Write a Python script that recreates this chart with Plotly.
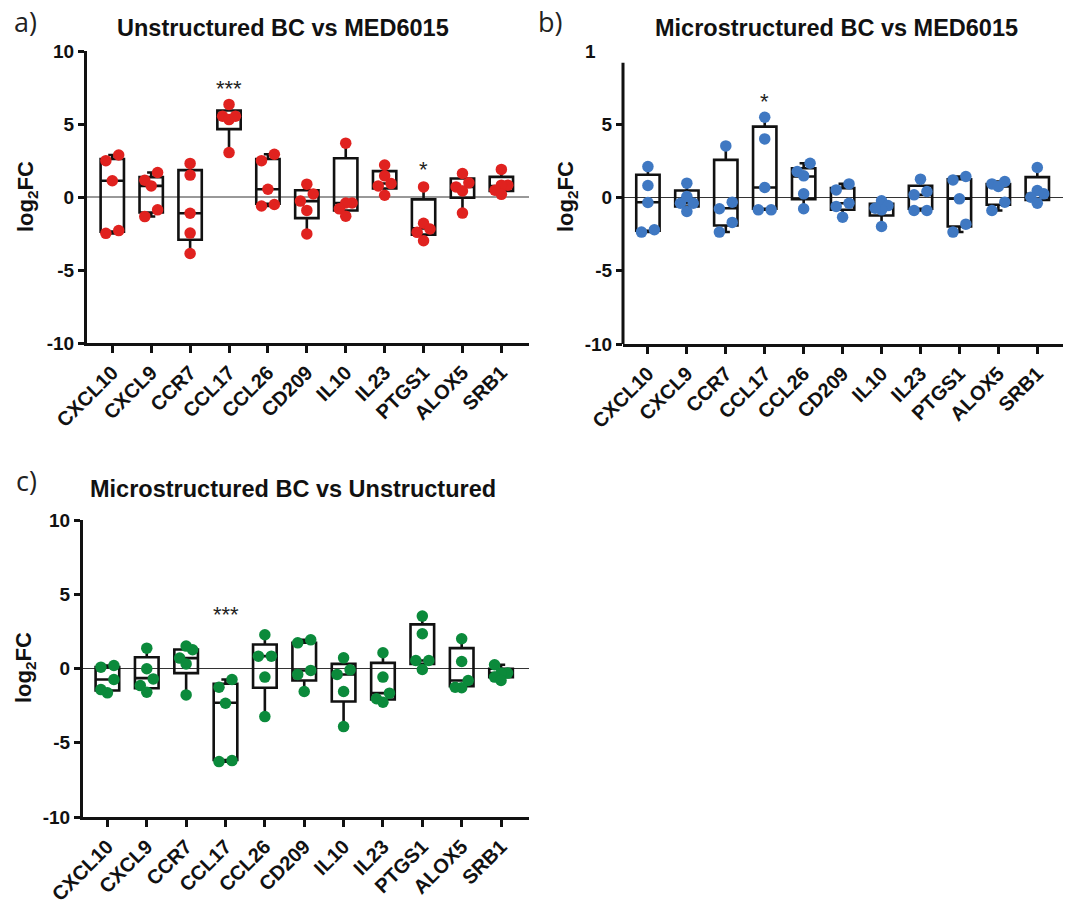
import numpy as np
import plotly.graph_objects as go

genes = ["CXCL10", "CXCL9", "CCR7", "CCL17", "CCL26", "CD209", "IL10", "IL23", "PTGS1", "ALOX5", "SRB1"]

# ---- Panel a: Unstructured BC vs MED6015 ----
a_points = [
    [2.49, 2.88, 1.11, -2.49, -2.30],
    [1.15, 0.76, 1.68, -0.88, -1.34],
    [2.30, 1.50, -1.11, -2.47, -3.87],
    [6.34, 5.53, 5.30, 5.53, 3.04],
    [2.49, 2.93, 0.53, -0.62, -0.51],
    [0.21, -0.28, 0.88, -0.92, -2.53],
    [3.69, -0.41, -0.41, -0.81, -1.31],
    [2.19, 1.45, 0.92, 0.76, 0.12],
    [0.69, -1.80, -2.19, -2.42, -3.00],
    [1.61, 0.97, 0.69, 0.41, -1.10],
    [1.89, 0.81, 0.81, 0.46, 0.18],
]
a_q1 = [-2.37, -1.06, -2.93, 4.65, -0.46, -1.45, -0.92, 0.58, -2.58, -0.05, 0.41]
a_med = [1.11, 0.76, -1.11, 5.50, 0.53, -0.28, -0.41, 0.92, -2.15, 0.69, 0.75]
a_q3 = [2.60, 1.36, 1.84, 5.92, 2.60, 0.46, 2.65, 1.77, -0.16, 1.27, 1.38]
a_sig_genes = ["CCL17", "PTGS1"]
a_sig_text = ["***", "*"]
a_sig_y = [7.76, 2.26]

# ---- Panel b: Microstructured BC vs MED6015 ----
b_points = [
    [2.11, 0.82, -0.34, -2.36, -2.20],
    [0.98, 0.07, -0.39, -0.39, -0.95],
    [3.52, -0.32, -0.77, -1.70, -2.36],
    [5.48, 4.00, 0.68, -0.84, -0.84],
    [2.34, 1.77, 1.48, 0.25, -0.77],
    [0.93, 0.52, -0.39, -0.61, -1.34],
    [-0.23, -0.55, -0.84, -0.73, -1.98],
    [1.25, 0.41, 0.18, -0.89, -0.89],
    [1.20, 1.43, -0.09, -1.82, -2.36],
    [0.93, 0.75, 1.09, -0.32, -0.89],
    [2.05, 0.48, 0.25, 0.02, -0.39],
]
b_q1 = [-2.27, -0.61, -1.91, -0.77, -0.11, -0.84, -1.23, -0.77, -1.98, -0.50, -0.16]
b_med = [-0.32, -0.39, -0.73, 0.68, 1.43, -0.39, -0.73, 0.18, -0.09, 0.75, 0.25]
b_q3 = [1.55, 0.48, 2.57, 4.84, 2.00, 0.64, -0.43, 0.80, 1.25, 0.91, 1.39]
b_sig_genes = ["CCL17"]
b_sig_text = ["*"]
b_sig_y = [6.9]

# ---- Panel c: Microstructured BC vs Unstructured ----
c_points = [
    [0.09, 0.20, -0.74, -1.64, -1.42],
    [1.37, -0.02, -0.70, -1.15, -1.60],
    [1.26, 1.51, 0.70, 0.31, -1.78],
    [-0.74, -1.26, -2.34, -6.27, -6.20],
    [2.27, 0.83, 0.83, -0.58, -3.24],
    [1.73, 1.93, -0.13, -0.40, -1.55],
    [0.72, -0.09, -0.40, -1.55, -3.91],
    [1.06, -0.58, -1.66, -2.04, -2.27],
    [3.53, 2.34, 0.54, 0.54, -0.07],
    [2.00, 0.47, -0.81, -1.30, -1.26],
    [0.25, -0.31, -0.31, -0.58, -0.81],
]
c_q1 = [-1.48, -1.33, -0.31, -6.16, -1.30, -0.81, -2.22, -2.09, 0.31, -1.19, -0.58]
c_med = [-0.74, -0.65, 0.70, -2.31, 0.83, -0.13, -0.40, -1.66, 0.54, -0.81, -0.31]
c_q3 = [0.09, 0.76, 1.28, -1.03, 1.62, 1.73, 0.31, 0.38, 2.97, 1.37, -0.02]
c_sig_genes = ["CCL17"]
c_sig_text = ["***"]
c_sig_y = [3.96]

y_ticks = [-10, -5, 0, 5, 10]

# ---------------------------------------------------------------
W, H = 1072, 900
OFF = 8  # the page body margin shifts the figure by 8 px
RED = "#e0221f"
BLUE = "#3f78c2"
GREEN = "#0b8a3b"
FONT = "Liberation Sans"


def px_x(p):
    return (p - OFF) / W


def px_y(p):
    return 1 - (p - OFF) / H


def swarm_offsets(vals, thr=0.7, d=0.165):
    vals = np.asarray(vals, dtype=float)
    order = np.argsort(vals, kind="stable")
    offs = np.zeros(len(vals))
    clusters, cur = [], [order[0]]
    for i in order[1:]:
        if vals[i] - vals[cur[-1]] < thr:
            cur.append(i)
        else:
            clusters.append(cur)
            cur = [i]
    clusters.append(cur)
    pattern = [0, -1, 1]
    for cl in clusters:
        if len(cl) == 2:
            offs[cl[0]], offs[cl[1]] = -d, d
        elif len(cl) > 2:
            for k, i in enumerate(cl):
                offs[i] = pattern[k % 3] * d
    return offs


fig = go.Figure()

panels = [
    dict(points=a_points, q1=a_q1, med=a_med, q3=a_q3, color=RED, ax="", sig=(a_sig_genes, a_sig_text, a_sig_y),
         xdom=(87, 529), ydom=(51, 343), xr=(-0.65, 10.71)),
    dict(points=b_points, q1=b_q1, med=b_med, q3=b_q3, color=BLUE, ax="2", sig=(b_sig_genes, b_sig_text, b_sig_y),
         xdom=(623, 1063), ydom=(51, 344), xr=(-0.64, 10.66)),
    dict(points=c_points, q1=c_q1, med=c_med, q3=c_q3, color=GREEN, ax="3", sig=(c_sig_genes, c_sig_text, c_sig_y),
         xdom=(83, 529), ydom=(520, 817), xr=(-0.62, 10.71)),
]

annotations = []
shapes = []
layout_axes = {}

for p in panels:
    ax = p["ax"]
    xa, ya = "x" + ax, "y" + ax
    idx = list(range(len(genes)))
    lo = [min(v) for v in p["points"]]
    hi = [max(v) for v in p["points"]]
    fig.add_trace(go.Box(
        x=idx, q1=p["q1"], median=p["med"], q3=p["q3"], lowerfence=lo, upperfence=hi,
        boxpoints=False, width=0.6, whiskerwidth=0.35,
        fillcolor="rgba(0,0,0,0)", line=dict(color="#111111", width=2.6),
        xaxis=xa, yaxis=ya, showlegend=False, hoverinfo="skip",
    ))
    xs, ys = [], []
    for i, vals in enumerate(p["points"]):
        offs = swarm_offsets(vals)
        xs.extend(i + offs)
        ys.extend(vals)
    fig.add_trace(go.Scatter(
        x=xs, y=ys, mode="markers",
        marker=dict(color=p["color"], size=11.5, line=dict(width=0)),
        xaxis=xa, yaxis=ya, showlegend=False, hoverinfo="skip",
    ))
    # zero reference line
    shapes.append(dict(type="line", xref=xa + " domain", yref=ya, x0=0, x1=1, y0=0, y1=0,
                       line=dict(color="#333333", width=1), layer="below"))
    # significance marks
    for g, t, yv in zip(*p["sig"]):
        annotations.append(dict(x=genes.index(g), y=yv, xref=xa, yref=ya, text=t, showarrow=False,
                                xanchor="center", yanchor="middle",
                                font=dict(family=FONT, size=22, color="#222222"), yshift=-5))

    xkey = "xaxis" + ax
    ykey = "yaxis" + ax
    layout_axes[xkey] = dict(
        domain=[px_x(p["xdom"][0]), px_x(p["xdom"][1])], range=list(p["xr"]), anchor=ya,
        tickvals=idx, ticktext=genes, tickangle=-45, automargin=False,
        showline=True, linewidth=3, linecolor="#111111", ticks="outside", ticklen=7, tickwidth=3,
        tickcolor="#111111", showgrid=False, zeroline=False,
        tickfont=dict(family=FONT, size=20, color="#111111", weight="bold"),
    )
    layout_axes[ykey] = dict(
        domain=[px_y(p["ydom"][1]), px_y(p["ydom"][0])], range=[-10, 10], anchor=xa,
        tickvals=y_ticks, ticktext=[str(v) for v in y_ticks], automargin=False,
        showline=True, linewidth=3, linecolor="#111111", ticks="outside", ticklen=6, tickwidth=3,
        tickcolor="#111111", showgrid=False, zeroline=False,
        tickfont=dict(family=FONT, size=19, color="#111111", weight="bold"),
    )

# Panel b: y axis line shorter at top and top label clipped to "1" as in the source
layout_axes["yaxis2"]["showline"] = False
layout_axes["yaxis2"]["tickvals"] = y_ticks[:-1]
layout_axes["yaxis2"]["ticktext"] = [str(v) for v in y_ticks[:-1]]
shapes.append(dict(type="line", xref="x2 domain", yref="y2", x0=0, x1=0, y0=-10, y1=9.2,
                   line=dict(color="#111111", width=3)))
annotations.append(dict(x=px_x(598), y=10, xref="paper", yref="y2", text="1", showarrow=False,
                        xanchor="right", yanchor="middle",
                        font=dict(family=FONT, size=19, color="#111111", weight="bold")))

# Titles
titles = [("Unstructured BC vs MED6015", 283, 28), ("Microstructured BC vs MED6015", 836, 28),
          ("Microstructured BC vs Unstructured", 293, 489)]
for t, x, y in titles:
    annotations.append(dict(x=px_x(x), y=px_y(y), xref="paper", yref="paper", text=t, showarrow=False,
                            xanchor="center", yanchor="middle",
                            font=dict(family=FONT, size=23.5, color="#111111", weight="bold")))

# Panel letters
for t, x, y in [("a)", 25, 22), ("b)", 550, 22), ("c)", 26, 480)]:
    annotations.append(dict(x=px_x(x), y=px_y(y), xref="paper", yref="paper", text=t, showarrow=False,
                            xanchor="center", yanchor="middle",
                            font=dict(family="Open Sans", size=27, color="#222222")))

# Y axis titles
for x, y in [(27, 197), (567, 197), (25, 668)]:
    annotations.append(dict(x=px_x(x), y=px_y(y), xref="paper", yref="paper", text="log<sub>2</sub>FC",
                            showarrow=False, textangle=-90, xanchor="center", yanchor="middle",
                            font=dict(family=FONT, size=22, color="#111111", weight="bold")))

fig.update_layout(
    width=W, height=H, margin=dict(l=0, r=0, t=0, b=0, autoexpand=False),
    paper_bgcolor="white", plot_bgcolor="white",
    annotations=annotations, shapes=shapes, **layout_axes,
)

fig.write_html("out.html")
